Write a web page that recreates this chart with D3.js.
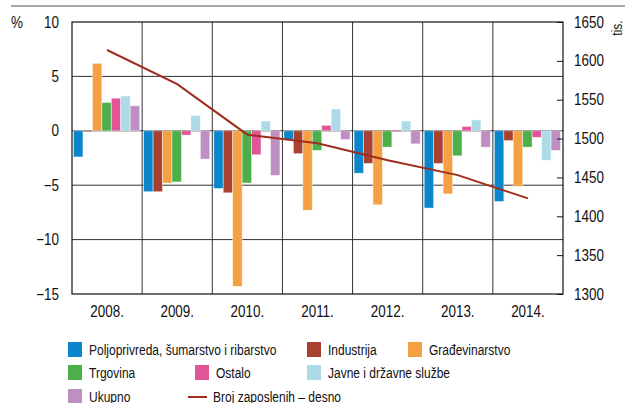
<!DOCTYPE html>
<html>
<head>
<meta charset="utf-8">
<style>
  body { margin: 0; background: #fff; }
  text { font-family: "Liberation Sans", Arial, sans-serif; fill: #111; }
</style>
</head>
<body>
<div id="chart"></div>
<script src="https://d3js.org/d3.v7.min.js"></script>
<script>
var years = ["2008.", "2009.", "2010.", "2011.", "2012.", "2013.", "2014."];
var seriesNames = ["Poljoprivreda, šumarstvo i ribarstvo", "Industrija", "Građevinarstvo",
                   "Trgovina", "Ostalo", "Javne i državne službe", "Ukupno"];
var colors = ["#0a86cc", "#a8412f", "#f5a042", "#4daf4a", "#df5598", "#acdbe7", "#bf8fc3"];

var poljoprivreda = [-2.4, -5.6, -5.3, -0.8, -3.9, -7.1, -6.5];
var industrija    = [-0.1, -5.6, -5.7, -2.1, -3.0, -3.0, -0.9];
var gradjevinarstvo = [6.2, -4.8, -14.3, -7.3, -6.8, -5.8, -5.1];
var trgovina      = [2.6, -4.7, -4.8, -1.8, -1.5, -2.3, -1.5];
var ostalo        = [3.0, -0.4, -2.2, 0.5, -0.1, 0.4, -0.6];
var javne         = [3.2, 1.4, 0.9, 2.0, 0.9, 1.0, -2.7];
var ukupno        = [2.3, -2.6, -4.1, -0.8, -1.2, -1.5, -1.8];
var zaposleni     = [1614, 1570, 1505, 1494, 1472, 1453, 1423];

var leftTicks = [10, 5, 0, -5, -10, -15];
var rightTicks = [1650, 1600, 1550, 1500, 1450, 1400, 1350, 1300];

var series = [poljoprivreda, industrija, gradjevinarstvo, trgovina, ostalo, javne, ukupno];

var W = 625, H = 403;
var m = {left: 72, right: 563, top: 22, bottom: 294};
var sx = 0.8;  // horizontal squeeze for legend (condensed look)
var ax = 0.84; // squeeze for axis numbers

var svg = d3.select("#chart").append("svg").attr("width", W).attr("height", H);

var x = d3.scaleBand().domain(years).range([m.left, m.right]);
var xi = d3.scaleBand().domain(d3.range(7)).range([1.5, x.bandwidth() - 2.5]);
var y = d3.scaleLinear().domain([-15, 10]).range([m.bottom, m.top]);
var y2 = d3.scaleLinear().domain([1300, 1650]).range([m.bottom, m.top]);

// top rule
svg.append("line").attr("x1", 11).attr("x2", W).attr("y1", 6).attr("y2", 6)
  .attr("stroke", "#888").attr("stroke-width", 1.5);

// horizontal grid
svg.append("g").selectAll("line").data(leftTicks.slice(1, 5)).join("line")
  .attr("x1", m.left).attr("x2", m.right)
  .attr("y1", d => y(d)).attr("y2", d => y(d))
  .attr("stroke", "#333").attr("stroke-width", 1);

// vertical grid
svg.append("g").selectAll("line").data(years.slice(1)).join("line")
  .attr("x1", d => x(d)).attr("x2", d => x(d))
  .attr("y1", m.top).attr("y2", m.bottom)
  .attr("stroke", "#333").attr("stroke-width", 1);

// bars
series.forEach(function (vals, s) {
  svg.append("g").selectAll("rect").data(vals).join("rect")
    .attr("x", (d, i) => x(years[i]) + xi(s))
    .attr("width", xi.bandwidth())
    .attr("y", d => y(Math.max(0, d)))
    .attr("height", d => Math.abs(y(d) - y(0)))
    .attr("fill", colors[s])
    .attr("stroke", "#fff").attr("stroke-opacity", 0.55).attr("stroke-width", 0.8);
});

// line
var line = d3.line().x((d, i) => x(years[i]) + x.bandwidth() / 2).y(d => y2(d));
svg.append("path").datum(zaposleni).attr("d", line)
  .attr("fill", "none").attr("stroke", "#a02d1d").attr("stroke-width", 2);

// frame
svg.append("rect").attr("x", m.left).attr("y", m.top)
  .attr("width", m.right - m.left).attr("height", m.bottom - m.top)
  .attr("fill", "none").attr("stroke", "#111").attr("stroke-width", 1.2);

// left axis
var yAxis = d3.axisLeft(y).tickValues(leftTicks).tickSize(0)
  .tickFormat(d => d < 0 ? "\u2212" + Math.abs(d) : d);
var gl = svg.append("g").attr("transform", "translate(" + m.left + ",0)").call(yAxis);
gl.select(".domain").remove();
gl.selectAll("text").attr("x", -13 / ax).attr("transform", "scale(" + ax + ",1)")
  .attr("font-size", 16).attr("font-family", null);

// right axis
var y2Axis = d3.axisLeft(y2).tickValues(rightTicks).tickSize(6).tickFormat(d3.format("d"));
var gr = svg.append("g").attr("transform", "translate(" + m.right + ",0)").call(y2Axis);
gr.select(".domain").remove();
gr.selectAll("line").attr("stroke", "#111");
gr.selectAll("text").attr("text-anchor", "start").attr("x", 11 / ax)
  .attr("transform", "scale(" + ax + ",1)")
  .attr("font-size", 16).attr("font-family", null);

// x axis
var xAxis = d3.axisBottom(x).tickSize(0).tickPadding(12);
var gx = svg.append("g").attr("transform", "translate(0," + m.bottom + ")").call(xAxis);
gx.select(".domain").remove();
gx.selectAll("text").attr("transform", "scale(" + ax + ",1)")
  .attr("font-size", 16).attr("font-family", null);

// unit labels
svg.append("text").attr("transform", "translate(11,28) scale(" + ax + ",1)")
  .attr("font-size", 16).text("%");
svg.append("text").attr("transform", "translate(622,28) rotate(-90) scale(" + sx + ",1)")
  .attr("text-anchor", "middle").attr("font-size", 15).text("tis.");

// legend
var legendPos = [[68, 342], [307, 342], [408, 342], [68, 365], [195, 365], [307, 365], [68, 389]];
var lg = svg.append("g");
seriesNames.forEach(function (name, i) {
  var p = legendPos[i];
  lg.append("rect").attr("x", p[0]).attr("y", p[1]).attr("width", 14).attr("height", 15)
    .attr("fill", colors[i]);
  lg.append("text").attr("transform", "translate(" + (p[0] + 21) + "," + (p[1] + 13) + ") scale(" + sx + ",1)")
    .attr("font-size", 15).text(name);
});
lg.append("line").attr("x1", 188).attr("x2", 207).attr("y1", 397).attr("y2", 397)
  .attr("stroke", "#a02d1d").attr("stroke-width", 2);
lg.append("text").attr("transform", "translate(213,402) scale(" + sx + ",1)")
  .attr("font-size", 15).text("Broj zaposlenih \u2013 desno");
</script>
</body>
</html>
